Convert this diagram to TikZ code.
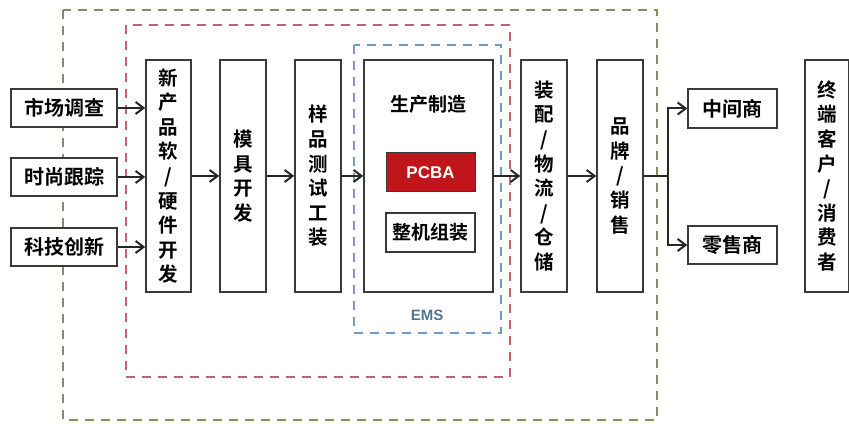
\documentclass[tikz,border=0pt]{standalone}
\usepackage{fontspec}
\setmainfont{Noto Sans CJK SC}[BoldFont={* Bold}]
\newfontfamily\cjkb{Noto Sans CJK SC Bold}
\newfontfamily\latb{Liberation Sans}[BoldFont={* Bold}]
\usetikzlibrary{arrows.meta}
\definecolor{boxline}{HTML}{3A3A3A}
\definecolor{gdash}{HTML}{858F57}
\definecolor{rdash}{HTML}{C9606A}
\definecolor{bdash}{HTML}{6E9CC4}
\definecolor{pcbared}{HTML}{C0151B}
\definecolor{emsblue}{HTML}{4F7595}
\tikzset{
  stepbox/.style={draw=boxline, line width=1.5pt, fill=white, inner sep=0pt, align=center, font=\cjkb},
  hfont/.style={font=\cjkb\fontsize{20}{20}\selectfont},
  vfont/.style={font=\cjkb\fontsize{19.5}{24.6}\selectfont},
  conn/.style={line width=2pt, draw=black!85, -{Straight Barb[length=8pt,width=12pt,line width=2pt]}},
  plain/.style={line width=2pt, draw=black!85},
  gbox/.style={draw=gdash, line width=1.8pt, dash pattern=on 9pt off 7pt},
  rbox/.style={draw=rdash, line width=1.8pt, dash pattern=on 9pt off 7pt},
  bbox/.style={draw=bdash, line width=1.8pt, dash pattern=on 9pt off 7pt},
}
\begin{document}
\begin{tikzpicture}[x=1pt,y=-1pt]
\useasboundingbox (0,0) rectangle (849,427);
% dashed frames
\draw[gbox] (63,10) rectangle (657,420);
\draw[rbox] (126,25) rectangle (510,377);
\draw[bbox] (354,45) rectangle (501,333);
\node[font=\latb\bfseries\fontsize{15}{15}\selectfont, text=emsblue] (ems) at (427,315) {EMS};

% left inputs
\node[stepbox, minimum width=106pt, minimum height=38pt, hfont] (sc) at (64,108) {市场调查};
\node[stepbox, minimum width=106pt, minimum height=38pt, hfont] (ss) at (64,177) {时尚跟踪};
\node[stepbox, minimum width=106pt, minimum height=38pt, hfont] (kj) at (64,247) {科技创新};

% vertical boxes
\node[stepbox, minimum width=45pt, minimum height=232pt, vfont] (xcp) at (168.5,176) {新\\产\\品\\软\\/\\硬\\件\\开\\发};
\node[stepbox, minimum width=46pt, minimum height=232pt, vfont] (mj) at (243,176) {模\\具\\开\\发};
\node[stepbox, minimum width=46pt, minimum height=232pt, vfont] (yp) at (318,176) {样\\品\\测\\试\\工\\装};
\node[stepbox, minimum width=129pt, minimum height=232pt] (sz) at (428.5,176) {};
\node[font=\cjkb\fontsize{19}{19}\selectfont] (szt) at (428.5,104) {生产制造};
\node[draw=boxline, line width=1pt, fill=pcbared, minimum width=89pt, minimum height=39pt, inner sep=0pt, text=white, font=\latb\bfseries\fontsize{17}{17}\selectfont] (pcba) at (430.5,172.5) {PCBA};
\node[stepbox, line width=1.2pt, minimum width=89pt, minimum height=39pt, font=\cjkb\fontsize{19}{19}\selectfont] (zj) at (430.5,232.5) {整机组装};
\node[stepbox, minimum width=46pt, minimum height=232pt, vfont] (zp) at (544,176) {装\\配\\/\\物\\流\\/\\仓\\储};
\node[stepbox, minimum width=46pt, minimum height=232pt, vfont] (pp) at (620,176) {品\\牌\\/\\销\\售};
\node[stepbox, minimum width=89pt, minimum height=39pt, hfont] (zjs) at (732.5,108.5) {中间商};
\node[stepbox, minimum width=89pt, minimum height=38pt, hfont] (lss) at (732.5,245) {零售商};
\node[stepbox, minimum width=44pt, minimum height=232pt, vfont] (zd) at (827,176) {终\\端\\客\\户\\/\\消\\费\\者};

% connectors
\draw[conn] (sc.east) -- (sc.east -| xcp.west);
\draw[conn] (ss.east) -- (ss.east -| xcp.west);
\draw[conn] (kj.east) -- (kj.east -| xcp.west);
\draw[conn] (xcp) -- (mj);
\draw[conn] (mj) -- (yp);
\draw[conn] (yp) -- (sz);
\draw[conn] (sz) -- (zp);
\draw[conn] (zp) -- (pp);
\coordinate (br) at (668,176);
\draw[plain] (pp.east) -- (br);
\draw[conn] (br) |- (zjs.west);
\draw[conn] (br) |- (lss.west);
\end{tikzpicture}
\end{document}
